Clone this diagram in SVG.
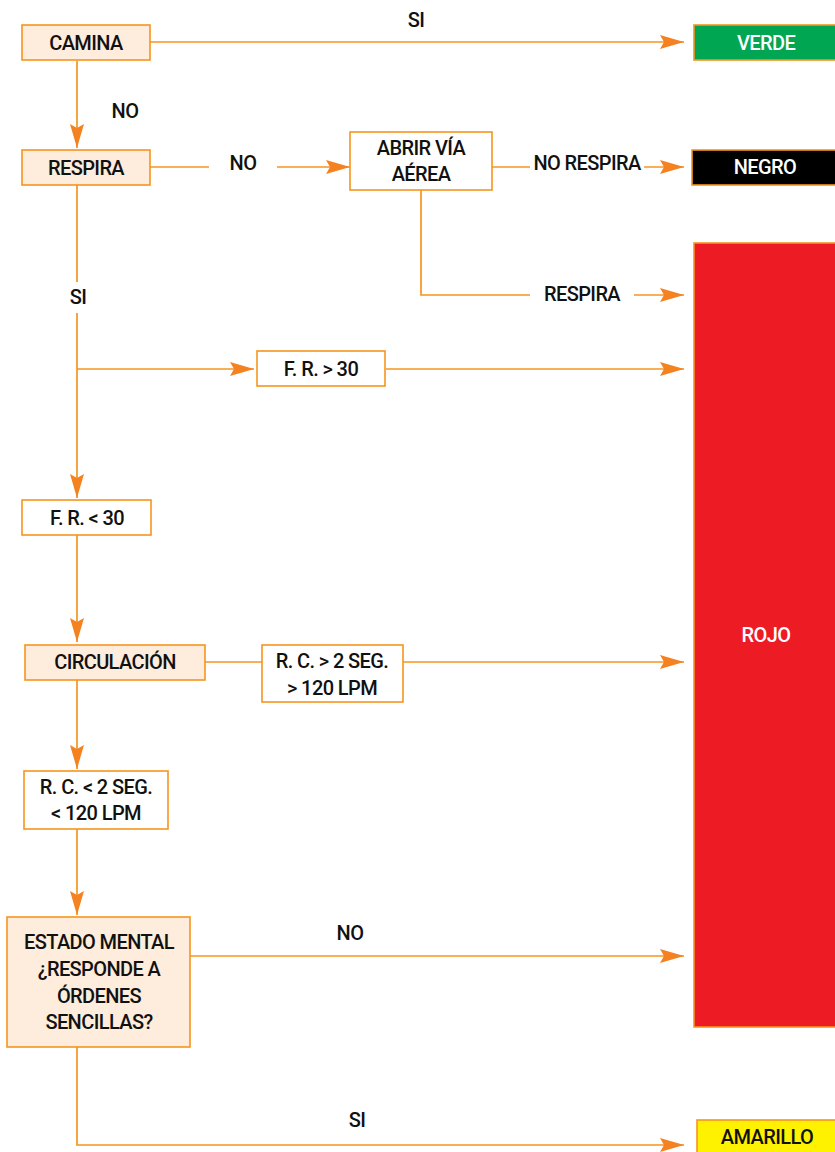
<svg xmlns="http://www.w3.org/2000/svg" width="835" height="1152" viewBox="0 0 835 1152">
<style>
  .t { font-family: Roboto, "Liberation Sans", sans-serif; font-weight: 500; font-size: 20px; letter-spacing: -0.6px; fill: #111; text-anchor: middle; }
  .w { fill: #ffffff; }
  .box { stroke: #f7941d; stroke-width: 1.6; }
  .peach { fill: #feecdc; }
  .white { fill: #ffffff; }
  .ln { fill: none; stroke: #f7941d; stroke-width: 1.7; }
  .arr { marker-end: url(#ah); }
</style>
<defs>
  <marker id="ah" markerUnits="userSpaceOnUse" markerWidth="26" markerHeight="16" refX="25" refY="8" orient="auto">
    <path d="M1,1 L25,8 L1,15 L5,8 Z" fill="#f58220"/>
  </marker>
</defs>
<rect width="835" height="1152" fill="#ffffff"/>

<g id="connectors">
  <line class="ln arr" x1="150" y1="42" x2="684" y2="42"/>
  <line class="ln arr" x1="77" y1="61" x2="77" y2="148"/>
  <line class="ln" x1="150" y1="167" x2="209" y2="167"/>
  <line class="ln arr" x1="277" y1="167" x2="350" y2="167"/>
  <line class="ln" x1="492" y1="167" x2="530" y2="167"/>
  <line class="ln arr" x1="644" y1="167" x2="684" y2="167"/>
  <polyline class="ln" points="421,190 421,295 530,295"/>
  <line class="ln arr" x1="634" y1="295" x2="684" y2="295"/>
  <line class="ln" x1="77" y1="185" x2="77" y2="282"/>
  <line class="ln arr" x1="77" y1="313" x2="77" y2="498"/>
  <line class="ln arr" x1="77" y1="369" x2="254" y2="369"/>
  <line class="ln arr" x1="386" y1="369" x2="684" y2="369"/>
  <line class="ln arr" x1="77" y1="535" x2="77" y2="642"/>
  <line class="ln" x1="205" y1="662" x2="262" y2="662"/>
  <line class="ln arr" x1="403" y1="662" x2="684" y2="662"/>
  <line class="ln arr" x1="77" y1="680" x2="77" y2="769"/>
  <line class="ln arr" x1="77" y1="829" x2="77" y2="915"/>
  <line class="ln arr" x1="190" y1="956" x2="684" y2="956"/>
  <polyline class="ln arr" points="77,1047 77,1145 684,1145"/>
</g>

<g id="label-si-top"><text class="t" x="416" y="27">SI</text></g>
<g id="label-no-1"><text class="t" x="125" y="118">NO</text></g>
<g id="label-no-2"><text class="t" x="243" y="170">NO</text></g>
<g id="label-no-respira"><text class="t" x="587" y="170">NO RESPIRA</text></g>
<g id="label-respira"><text class="t" x="582" y="301">RESPIRA</text></g>
<g id="label-si-2"><text class="t" x="78" y="304">SI</text></g>
<g id="label-no-3"><text class="t" x="350" y="940">NO</text></g>
<g id="label-si-3"><text class="t" x="357" y="1127">SI</text></g>

<g id="camina">
  <rect class="box peach" x="22" y="25" width="128" height="35"/>
  <text class="t" x="86" y="50">CAMINA</text>
</g>
<g id="verde">
  <rect class="box" x="694" y="25" width="150" height="35" fill="#00a651"/>
  <text class="t w" x="766" y="50">VERDE</text>
</g>
<g id="respira">
  <rect class="box peach" x="22" y="150" width="128" height="35"/>
  <text class="t" x="86" y="175">RESPIRA</text>
</g>
<g id="abrir">
  <rect class="box white" x="350" y="132" width="142" height="58"/>
  <text class="t" x="421" y="155">ABRIR VÍA</text>
  <text class="t" x="421" y="181">AÉREA</text>
</g>
<g id="negro">
  <rect class="box" x="692" y="150" width="152" height="35" fill="#000000"/>
  <text class="t w" x="765" y="174">NEGRO</text>
</g>
<g id="rojo">
  <rect class="box" x="694" y="243" width="150" height="784" fill="#ed1c24"/>
  <text class="t w" x="766" y="642">ROJO</text>
</g>
<g id="fr-mayor">
  <rect class="box white" x="257" y="351" width="128" height="35"/>
  <text class="t" x="321" y="376">F. R. &gt; 30</text>
</g>
<g id="fr-menor">
  <rect class="box white" x="22" y="500" width="129" height="35"/>
  <text class="t" x="87" y="525">F. R. &lt; 30</text>
</g>
<g id="circulacion">
  <rect class="box peach" x="25" y="645" width="180" height="35"/>
  <text class="t" x="115" y="669">CIRCULACIÓN</text>
</g>
<g id="rc-mayor">
  <rect class="box white" x="262" y="645" width="141" height="57"/>
  <text class="t" x="332" y="668">R. C. &gt; 2 SEG.</text>
  <text class="t" x="332" y="695">&gt; 120 LPM</text>
</g>
<g id="rc-menor">
  <rect class="box white" x="24" y="771" width="144" height="58"/>
  <text class="t" x="96" y="794">R. C. &lt; 2 SEG.</text>
  <text class="t" x="96" y="820">&lt; 120 LPM</text>
</g>
<g id="estado-mental">
  <rect class="box peach" x="7" y="917" width="183" height="130"/>
  <text class="t" x="99" y="949">ESTADO MENTAL</text>
  <text class="t" x="99" y="976">¿RESPONDE A</text>
  <text class="t" x="99" y="1003">ÓRDENES</text>
  <text class="t" x="99" y="1029">SENCILLAS?</text>
</g>
<g id="amarillo">
  <rect class="box" x="697" y="1120" width="150" height="45" fill="#fff200"/>
  <text class="t" x="767" y="1144">AMARILLO</text>
</g>
</svg>
